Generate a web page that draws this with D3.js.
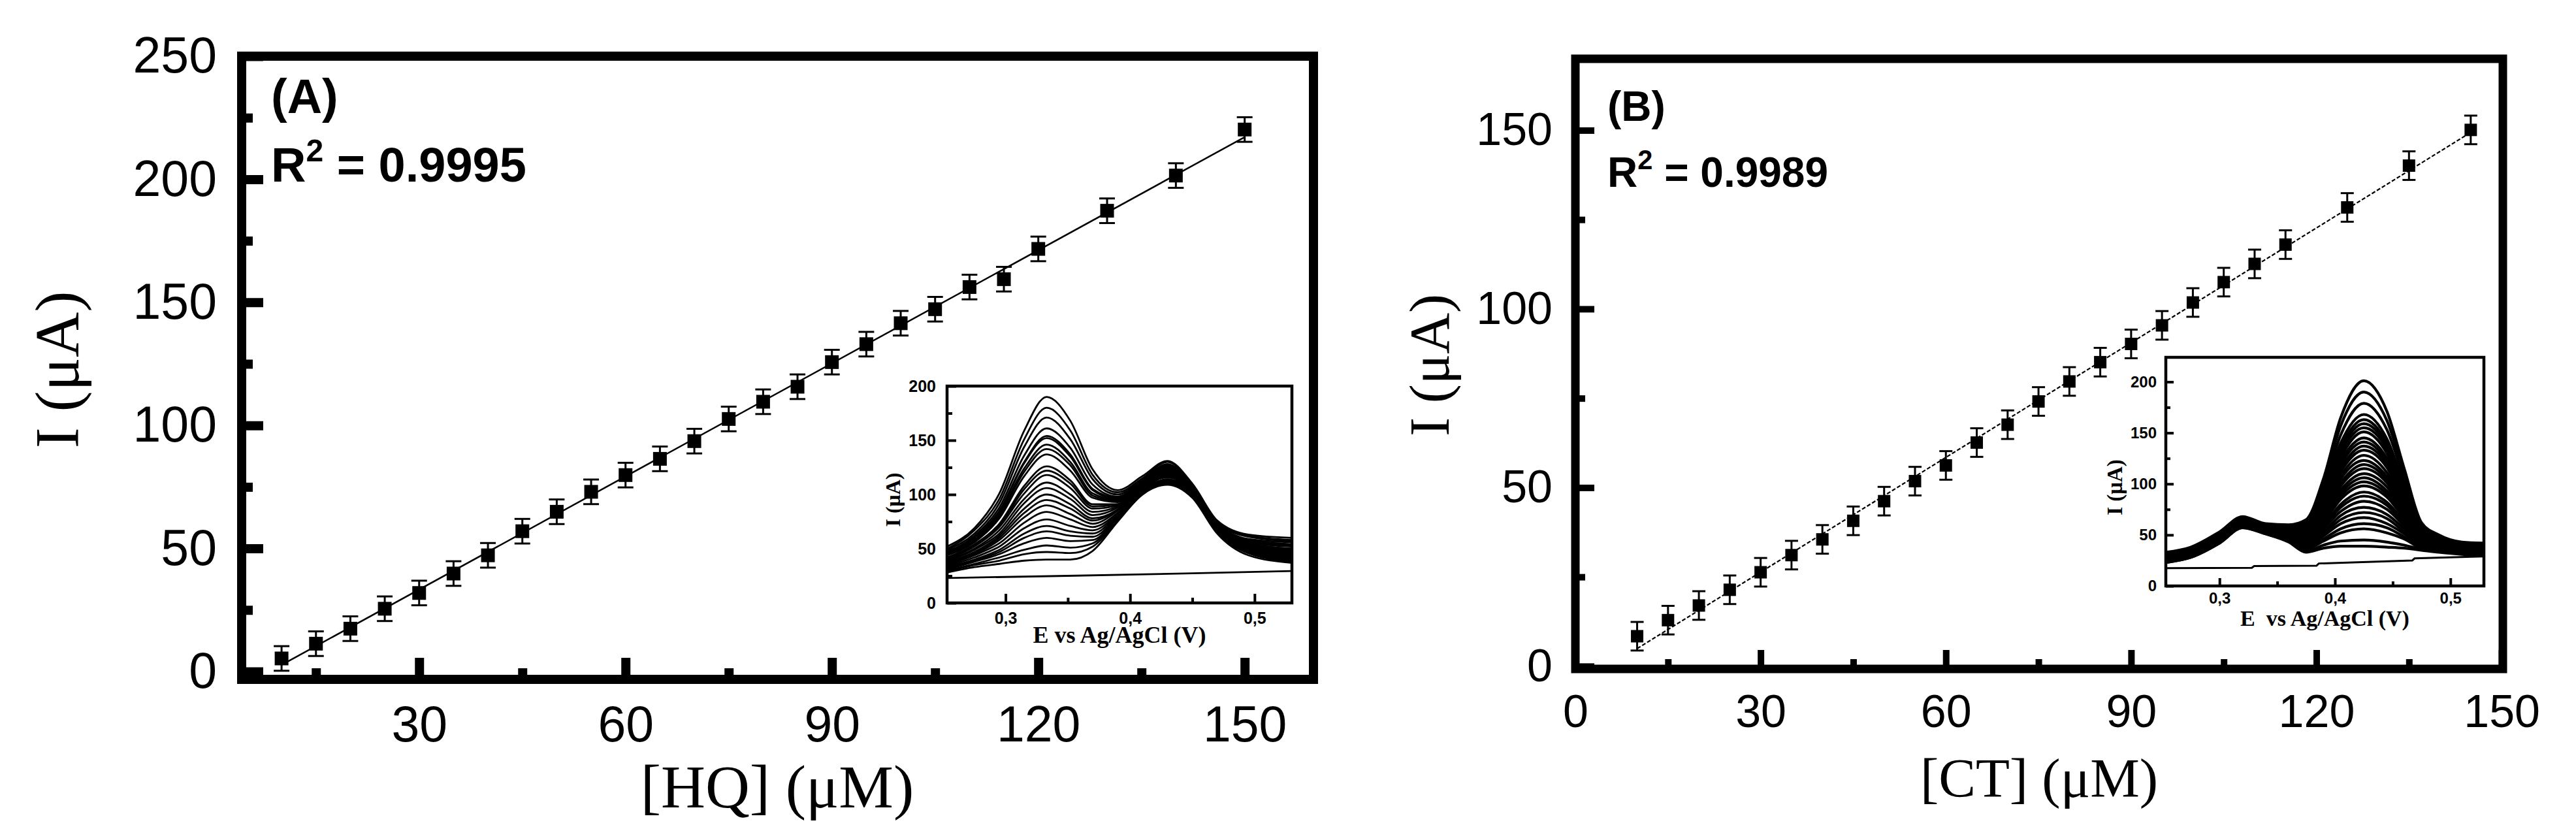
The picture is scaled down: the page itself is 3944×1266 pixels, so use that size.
<!DOCTYPE html>
<html><head><meta charset="utf-8">
<script src="https://cdn.jsdelivr.net/npm/d3@7"></script>
<style>html,body{margin:0;padding:0;background:#fff;} svg{display:block;}</style>
</head><body>
<svg id="chart" width="3944" height="1266"></svg>
<script>
// ---------------- DATA ----------------
// Panel A : hydroquinone
const hqConc    = [10,15,20,25,30,35,40,45,50,55,60,65,70,75,80,85,90,95,100,105,110,115,120,130,140,150];
const hqCurrent = [5.3,11.3,17.4,25.5,31.9,39.8,47.2,57,64.9,73,79.8,86.4,93.6,102.6,109.6,115.7,125.7,133,141.5,147.2,156.2,159.4,171.7,187.2,201.5,220.2];
const hqError   = [5,5,5,5,5,5,5,5,5,5,5,5,5,5,5,5,5,5,5,5,5,5,5,5,5,5];
// Panel B : catechol
const ctConc    = [10,15,20,25,30,35,40,45,50,55,60,65,70,75,80,85,90,95,100,105,110,115,125,135,145];
const ctCurrent = [8.4,12.9,17,21.4,26.3,31.1,35.5,40.7,46.2,51.8,56.2,62.6,67.6,74.1,79.7,85.1,90.2,95.4,101.8,107.5,112.6,118,128.4,140.1,150.1];
const ctError   = [4,4,4,4,4,4,4,4,4,4,4,4,4,4,4,4,4,4,4,4,4,4,4,4,4];

// tick values
const aYTicks = [0,50,100,150,200,250], aYMinor = [25,75,125,175,225];
const aXTicks = [30,60,90,120,150],     aXMinor = [15,45,75,105,135];
const bYTicks = [0,50,100,150],         bYMinor = [25,75,125];
const bXTicks = [0,30,60,90,120,150],   bXMinor = [15,45,75,105,135];
const insXTicks = [0.3,0.4,0.5], insXMinor = [0.35,0.45];
const insYTicks = [0,50,100,150,200], insYMinor = [25,75,125,175];

// Inset A : DPV curves (potential knots, V) and currents (µA) per curve
const insAE = [0.253,0.275,0.295,0.315,0.333,0.352,0.37,0.39,0.41,0.43,0.45,0.47,0.495,0.53];
const insAI = [
 [52,69,101,159,190,168,123,104,117,131,110,76,63,60],
 [50,67,96,151,180,159,118,102,115,130,109,75,62,58],
 [49,64,92,144,171,151,114,100,114,128,108,74,61,57],
 [47,62,88,136,161,143,109,98,113,127,108,74,59,56],
 [46,60,85,130,154,137,105,97,113,126,107,73,58,54],
 [46,60,84,129,152,135,104,96,112,126,107,73,58,54],
 [45,58,82,124,146,130,101,95,112,125,106,72,57,53],
 [44,57,80,121,142,127,99,94,111,124,106,72,57,53],
 [44,56,78,117,137,122,97,93,111,123,105,72,56,52],
 [42,54,73,108,126,113,91,91,110,122,105,71,55,50],
 [41,53,71,105,122,110,89,91,109,121,104,71,54,50],
 [40,52,70,101,118,106,87,90,109,120,104,70,54,49],
 [39,50,67,96,111,100,84,89,108,119,103,70,53,48],
 [39,49,64,92,106,96,81,88,107,119,103,69,52,47],
 [38,47,62,87,100,91,78,86,107,118,102,69,52,46],
 [37,46,60,83,95,87,76,86,106,117,102,68,51,45],
 [36,45,58,79,90,82,73,85,106,116,101,68,50,45],
 [35,44,55,74,84,77,70,83,105,116,101,68,50,44],
 [34,42,52,69,77,71,67,82,104,114,100,67,49,43],
 [33,40,49,64,71,66,64,81,103,114,100,66,48,42],
 [32,39,47,60,66,62,61,80,103,113,99,66,47,41],
 [31,38,45,55,60,57,58,79,102,112,99,66,47,40],
 [30,36,42,49,53,51,55,78,101,111,98,65,46,39],
 [29,35,39,45,47,46,52,76,101,110,98,65,46,38],
 [28,33,36,39,40,40,48,75,100,109,97,64,44,37]
];
const insABaseE = [0.253,0.35,0.45,0.53];
const insABaseI = [23,25,27.3,29.5];

// Inset B : DPV curves
const insBE = [0.2535,0.275,0.3,0.32,0.34,0.36,0.375,0.39,0.405,0.425,0.445,0.46,0.475,0.49,0.51,0.529];
const insBI = [
 [33,38,53,68,61,60,65,105,165,201,171,115,62,50,43,42],
 [32,37,52,67,60,59,63,100,157,190,162,110,60,48,42,41],
 [32,37,51,66,60,58,61,96,148,179,153,105,58,47,41,40],
 [31,36,51,66,59,57,59,91,140,168,144,99,56,46,40,39],
 [31,36,50,65,59,56,58,89,136,163,140,97,56,46,40,39],
 [30,35,50,65,58,56,57,87,133,159,137,95,55,45,40,39],
 [30,35,50,65,58,55,56,86,130,155,134,93,54,45,39,38],
 [30,35,49,64,58,55,55,84,126,151,130,91,54,45,39,38],
 [29,35,49,64,58,54,54,82,122,145,125,88,53,44,39,38],
 [29,34,49,64,57,54,53,80,119,141,122,86,52,44,38,37],
 [29,34,48,63,57,53,53,78,115,137,119,84,51,43,38,37],
 [29,34,48,63,57,53,52,77,112,133,116,83,50,43,38,37],
 [28,33,48,63,57,52,51,74,108,128,111,80,50,42,37,36],
 [28,33,47,62,56,52,50,72,105,123,107,78,49,42,37,36],
 [28,33,47,62,56,51,49,71,101,119,104,76,48,41,37,36],
 [28,33,47,62,56,51,48,69,98,115,101,74,47,41,37,36],
 [27,32,46,61,55,50,47,67,94,110,97,72,47,40,36,35],
 [27,32,46,61,55,50,46,65,91,106,93,70,46,40,36,35],
 [27,32,46,61,55,50,46,63,88,102,90,68,45,40,36,35],
 [27,32,46,60,55,49,45,62,85,98,87,66,45,39,35,34],
 [26,31,45,60,54,49,44,59,80,92,82,63,44,39,35,34],
 [26,31,45,60,54,48,43,58,77,88,79,61,43,38,35,34],
 [26,31,45,60,54,48,42,56,73,83,75,59,42,38,34,33],
 [25,30,44,59,53,47,41,53,69,77,70,56,41,37,34,33],
 [25,30,44,59,53,47,40,51,65,72,66,53,40,37,34,33],
 [25,30,44,59,53,46,39,49,61,67,61,51,39,36,33,32],
 [24,29,43,58,52,45,37,46,56,61,57,48,38,36,33,32],
 [24,29,43,58,52,45,36,44,52,56,52,46,37,35,32,31],
 [23,28,42,57,51,44,34,40,44,45,43,40,36,34,32,31],
 [23,28,42,57,51,43,33,37,39,39,38,37,35,33,31,30]
];
const insBBaseE = [0.2535,0.328,0.33,0.384,0.386,0.467,0.469,0.529];
const insBBaseI = [17.5,17.8,19.5,19.8,22,25,27,29];

// ---------------- DRAWING ----------------
const svg = d3.select("#chart");
const SANS = "'Liberation Sans', Arial, Helvetica, sans-serif";
const SERIF = "'Liberation Serif', 'Times New Roman', Times, serif";
const commaFmt = d3.formatLocale({decimal:",", thousands:".", grouping:[3], currency:["",""]}).format(".1f");

function styleAxis(a, sw, size, weight, family){
  a.select(".domain").remove();
  a.attr("font-size", null).attr("font-family", null);
  a.selectAll(".tick line").attr("stroke", "#000").attr("stroke-width", sw);
  a.selectAll(".tick text").attr("font-family", family).attr("font-size", size)
    .attr("font-weight", weight).attr("fill", "#000");
}
function addAxes(g, x, y, o){
  const [x0] = x.range(), [y0] = y.range();
  const lx = g.append("g").attr("transform", `translate(${x0},0)`)
    .call(d3.axisLeft(y).tickValues(o.yT).tickSize(-o.maj).tickPadding(o.yPad).tickFormat(o.fmt||d3.format("d")));
  styleAxis(lx, o.sw, o.fs, o.fw, o.ff);
  const lm = g.append("g").attr("transform", `translate(${x0},0)`)
    .call(d3.axisLeft(y).tickValues(o.yM).tickSize(-o.min).tickFormat(""));
  styleAxis(lm, o.sw, o.fs, o.fw, o.ff);
  const bx = g.append("g").attr("transform", `translate(0,${y0})`)
    .call(d3.axisBottom(x).tickValues(o.xT).tickSize(-o.maj).tickPadding(o.xPad).tickFormat(o.xfmt||d3.format("d")));
  styleAxis(bx, o.sw, o.fs, o.fw, o.ff);
  const bm = g.append("g").attr("transform", `translate(0,${y0})`)
    .call(d3.axisBottom(x).tickValues(o.xM).tickSize(-o.min).tickFormat(""));
  styleAxis(bm, o.sw, o.fs, o.fw, o.ff);
}
function frame(g, x, y, sw){
  const [x0,x1] = x.range(), [y0,y1] = y.range();
  g.append("rect").attr("x", x0).attr("y", y1).attr("width", x1-x0).attr("height", y0-y1)
    .attr("fill", "none").attr("stroke", "#000").attr("stroke-width", sw);
}
function regression(xs, ys){
  const mx = d3.mean(xs), my = d3.mean(ys);
  let sxy = 0, sxx = 0;
  xs.forEach((v,i)=>{ sxy += (v-mx)*(ys[i]-my); sxx += (v-mx)*(v-mx); });
  const b = sxy/sxx; return {b, a: my - b*mx};
}
function scatter(g, x, y, xs, ys, es, o){
  const fit = regression(xs, ys);
  const xa = d3.min(xs), xb = d3.max(xs);
  g.append("line").attr("x1", x(xa)).attr("y1", y(fit.a+fit.b*xa))
    .attr("x2", x(xb)).attr("y2", y(fit.a+fit.b*xb))
    .attr("stroke", "#000").attr("stroke-width", o.lw).attr("stroke-dasharray", o.dash || null);
  const pts = xs.map((v,i)=>({x:v, y:ys[i], e:es[i]}));
  const eb = g.append("g").attr("stroke", "#000").attr("stroke-width", 3);
  eb.selectAll(".v").data(pts).join("line")
    .attr("x1", d=>x(d.x)).attr("x2", d=>x(d.x)).attr("y1", d=>y(d.y-d.e)).attr("y2", d=>y(d.y+d.e));
  eb.selectAll(".t").data(pts).join("line")
    .attr("x1", d=>x(d.x)-o.cap/2).attr("x2", d=>x(d.x)+o.cap/2).attr("y1", d=>y(d.y+d.e)).attr("y2", d=>y(d.y+d.e));
  eb.selectAll(".b").data(pts).join("line")
    .attr("x1", d=>x(d.x)-o.cap/2).attr("x2", d=>x(d.x)+o.cap/2).attr("y1", d=>y(d.y-d.e)).attr("y2", d=>y(d.y-d.e));
  g.append("g").selectAll("rect").data(pts).join("rect")
    .attr("x", d=>x(d.x)-o.sq/2).attr("y", d=>y(d.y)-o.sq/2).attr("width", o.sq).attr("height", o.sq).attr("fill", "#000");
}
function annotate(g, x, y1, y2, label, r2, fs){
  g.append("text").attr("x", x).attr("y", y1).attr("font-family", SANS).attr("font-weight", "bold")
    .attr("font-size", fs).text(label);
  const t = g.append("text").attr("x", x).attr("y", y2).attr("font-family", SANS).attr("font-weight", "bold")
    .attr("font-size", fs);
  t.append("tspan").text("R");
  t.append("tspan").attr("font-size", fs*0.65).attr("dy", -fs*0.42).text("2");
  t.append("tspan").attr("dy", fs*0.42).text(" = " + r2);
}
function inset(g, id, x, y, E, I, baseE, baseI, o){
  const [x0,x1] = x.range(), [y0,y1] = y.range();
  g.append("rect").attr("x", x0).attr("y", y1).attr("width", x1-x0).attr("height", y0-y1).attr("fill", "#fff");
  g.append("clipPath").attr("id", id).append("rect").attr("x", x0).attr("y", y1).attr("width", x1-x0).attr("height", y0-y1);
  const cg = g.append("g").attr("clip-path", `url(#${id})`);
  const line = d3.line().x(d=>x(d[0])).y(d=>y(d[1])).curve(d3.curveMonotoneX);
  cg.append("path").datum(baseE.map((e,i)=>[e, baseI[i]])).attr("d", d3.line().x(d=>x(d[0])).y(d=>y(d[1])))
    .attr("fill", "none").attr("stroke", "#000").attr("stroke-width", o.blw || o.lw);
  cg.selectAll("path.c").data(I).join("path").attr("class", "c")
    .attr("d", row=>line(E.map((e,i)=>[e, row[i]])))
    .attr("fill", "none").attr("stroke", "#000").attr("stroke-width", o.lw);
  addAxes(g, x, y, {yT: insYTicks, yM: insYMinor, xT: insXTicks, xM: insXMinor, maj: o.maj, min: o.min,
    sw: 4, fs: o.fs, fw: "bold", ff: SANS, yPad: o.yPad, xPad: o.xPad, xfmt: commaFmt});
  frame(g, x, y, o.fw);
  g.append("text").attr("x", (x0+x1)/2).attr("y", o.xtY).attr("text-anchor", "middle")
    .attr("font-family", SERIF).attr("font-weight", "bold").attr("font-size", o.tfs).text(o.xTitle);
  g.append("text").attr("transform", `translate(${o.ytX},${o.ytY}) rotate(-90)`).attr("text-anchor", "middle")
    .attr("font-family", SERIF).attr("font-weight", "bold").attr("font-size", o.ytfs).text("I (\u03bcA)");
}

// ---- Panel A ----
const gA = svg.append("g");
const xA = d3.scaleLinear().domain([4.2, 160]).range([370, 2011]);
const yA = d3.scaleLinear().domain([-3.2, 250]).range([1040, 86]);
scatter(gA, xA, yA, hqConc, hqCurrent, hqError, {lw: 2.5, cap: 24, sq: 21});
addAxes(gA, xA, yA, {yT: aYTicks, yM: aYMinor, xT: aXTicks, xM: aXMinor, maj: 33, min: 17,
  sw: 14, fs: 77, fw: "normal", ff: SANS, yPad: 38, xPad: 40});
frame(gA, xA, yA, 14);
annotate(gA, 415, 173, 278, "(A)", "0.9995", 74);
gA.append("text").attr("x", 1190).attr("y", 1236).attr("text-anchor", "middle").attr("font-family", SERIF)
  .attr("font-size", 94).text("[HQ] (\u03bcM)");
gA.append("text").attr("transform", "translate(120,566) rotate(-90)").attr("text-anchor", "middle")
  .attr("font-family", SERIF).attr("font-size", 96).text("I (\u03bcA)");
inset(gA, "clipA",
  d3.scaleLinear().domain([0.253, 0.530]).range([1450, 1978]),
  d3.scaleLinear().domain([0, 200]).range([923, 591]),
  insAE, insAI, insABaseE, insABaseI,
  {lw: 2.8, maj: 14, min: 8, fs: 25, yPad: 17, xPad: 14, fw: 4.5, tfs: 36, xtY: 984, ytX: 1378, ytY: 765, ytfs: 32,
   xTitle: "E vs Ag/AgCl (V)"});

// ---- Panel B ----
const gB = svg.append("g");
const xB = d3.scaleLinear().domain([0, 150.2]).range([2412, 3832]);
const yB = d3.scaleLinear().domain([-0.75, 170]).range([1024, 90]);
scatter(gB, xB, yB, ctConc, ctCurrent, ctError, {lw: 2.2, cap: 20, sq: 19, dash: "6,3"});
addAxes(gB, xB, yB, {yT: bYTicks, yM: bYMinor, xT: bXTicks, xM: bXMinor, maj: 29, min: 15,
  sw: 10, fs: 70, fw: "normal", ff: SANS, yPad: 35, xPad: 39});
frame(gB, xB, yB, 13);
annotate(gB, 2461, 185, 286, "(B)", "0.9989", 64);
gB.append("text").attr("x", 3122).attr("y", 1220).attr("text-anchor", "middle").attr("font-family", SERIF)
  .attr("font-size", 85).text("[CT] (\u03bcM)");
gB.append("text").attr("transform", "translate(2218,559) rotate(-90)").attr("text-anchor", "middle")
  .attr("font-family", SERIF).attr("font-size", 87).text("I (\u03bcA)");
inset(gB, "clipB",
  d3.scaleLinear().domain([0.2535, 0.529]).range([3316, 3803]),
  d3.scaleLinear().domain([0, 224]).range([897, 547]),
  insBE, insBI, insBBaseE, insBBaseI,
  {lw: 4.2, blw: 3, maj: 12, min: 7, fs: 24, yPad: 14, xPad: 10, fw: 4.5, tfs: 34, xtY: 958, ytX: 3249, ytY: 746, ytfs: 33,
   xTitle: "E\u2002vs Ag/AgCl (V)"});
</script>
</body></html>
